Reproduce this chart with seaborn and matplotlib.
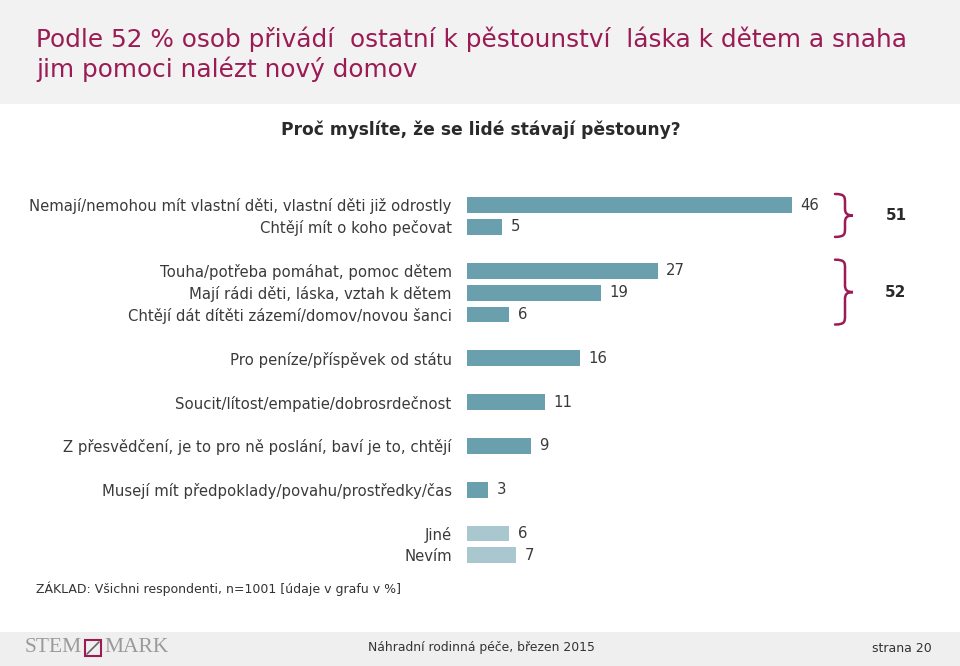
import numpy as np
import pandas as pd
import matplotlib
matplotlib.use("Agg")
import matplotlib.pyplot as plt
from matplotlib.path import Path
from matplotlib.patches import PathPatch, Rectangle
import seaborn as sns

# ---------------- data ----------------
labels = [
    "Nemají/nemohou mít vlastní děti, vlastní děti již odrostly",
    "Chtějí mít o koho pečovat",
    "Touha/potřeba pomáhat, pomoc dětem",
    "Mají rádi děti, láska, vztah k dětem",
    "Chtějí dát dítěti zázemí/domov/novou šanci",
    "Pro peníze/příspěvek od státu",
    "Soucit/lítost/empatie/dobrosrdečnost",
    "Z přesvědčení, je to pro ně poslání, baví je to, chtějí",
    "Musejí mít předpoklady/povahu/prostředky/čas",
    "Jiné",
    "Nevím",
]
values = [46, 5, 27, 19, 6, 16, 11, 9, 3, 6, 7]
groups = [0, 0, 1, 1, 1, 2, 3, 4, 5, 6, 6]
shade = ["main"] * 9 + ["other"] * 2
group_totals = {0: 51, 1: 52}

title = "Podle 52 % osob přivádí  ostatní k pěstounství  láska k dětem a snaha\njim pomoci nalézt nový domov"
subtitle = "Proč myslíte, že se lidé stávají pěstouny?"
footnote = "ZÁKLAD: Všichni respondenti, n=1001 [údaje v grafu v %]"
footer_center = "Náhradní rodinná péče, březen 2015"
footer_right = "strana 20"

# positions: one step inside a group, two steps between groups
pos = []
p = 0
for i, g in enumerate(groups):
    if i > 0:
        p += 1 if g == groups[i - 1] else 2
    pos.append(p)

df = pd.DataFrame({"label": labels, "value": values, "pos": pos, "shade": shade})

# ---------------- figure ----------------
sns.set_theme(style="white")
plt.rcParams["font.family"] = ["DejaVu Sans"]

W, H = 960, 666
fig = plt.figure(figsize=(W / 100, H / 100), dpi=100)
fig.patch.set_facecolor("white")

# overlay (pixel coords) for decorations
deco = fig.add_axes([0, 0, 1, 1], zorder=0)
deco.set_xlim(0, W)
deco.set_ylim(H, 0)
deco.axis("off")

deco.add_patch(Rectangle((0, 0), W, 104, color="#f2f2f2", lw=0))
deco.add_patch(Rectangle((0, 632), W, 34, color="#efefef", lw=0))

TITLE_C = "#9b1b55"
deco.text(36, 54, title, color=TITLE_C, fontsize=17.8, va="center", ha="left",
          linespacing=1.2)
deco.text(481, 130, subtitle, color="#2a2a2a", fontsize=12.3, fontweight="bold",
          ha="center", va="center")
deco.text(36, 589, footnote, color="#333333", fontsize=9, ha="left", va="center")
deco.text(481, 648, footer_center, color="#333333", fontsize=8.9, ha="center", va="center")
deco.text(932, 648, footer_right, color="#333333", fontsize=9, ha="right", va="center")

# logo
deco.text(82, 648, "STEM", family="Liberation Serif", color="#9a9a9a", fontsize=15.5,
          ha="right", va="center")
deco.add_patch(Rectangle((85, 640), 16, 16, fill=False, ec=TITLE_C, lw=1.5))
deco.plot([87, 99], [654, 642], color="#666666", lw=1.2)
deco.text(104, 648, "MARK", family="Liberation Serif", color="#9a9a9a", fontsize=15.5,
          ha="left", va="center")

# ---------------- bars ----------------
UNIT_PX = 21.9
Y0_PX = 205
top_px = Y0_PX - 0.5 * UNIT_PX
bottom_px = top_px + (max(pos) + 1) * UNIT_PX
left_px = 467
xmax = 50
width_px = xmax * 7.07
ax = fig.add_axes([left_px / W, 1 - bottom_px / H, width_px / W, (bottom_px - top_px) / H],
                  zorder=1)
ax.patch.set_alpha(0)

palette = {"main": "#6a9fae", "other": "#a8c7cf"}
sns.barplot(data=df, x="value", y="pos", hue="shade", palette=palette, orient="h",
            native_scale=True, width=0.73, dodge=False, legend=False, ax=ax,
            saturation=1, linewidth=0)
ax.set_xlim(0, xmax)
ax.set_ylim(max(pos) + 0.5, -0.5)
ax.set_yticks(pos)
ax.set_yticklabels(labels, fontsize=10.7, color="#3a3a3a")
ax.tick_params(axis="y", length=0, pad=11)
ax.set_xticks([])
ax.set_xlabel("")
ax.set_ylabel("")
for s in ax.spines.values():
    s.set_visible(False)

for v, y in zip(values, pos):
    ax.annotate(str(v), (v, y), xytext=(6, 0), textcoords="offset points",
                va="center", ha="left", fontsize=10.7, color="#3a3a3a")

# ---------------- braces ----------------
def brace(y0, y1, ym, xl=835, xv=845, xt=853):
    verts = [
        (xl, y0), (xv, y0), (xv, y0 + 3), (xv, y0 + 9),
        (xv, ym - 7),
        (xv, ym - 2), (xv + 2, ym), (xt, ym),
        (xv + 2, ym), (xv, ym + 2), (xv, ym + 7),
        (xv, y1 - 9),
        (xv, y1 - 3), (xv, y1), (xl, y1),
    ]
    codes = [Path.MOVETO, Path.CURVE4, Path.CURVE4, Path.CURVE4,
             Path.LINETO,
             Path.CURVE4, Path.CURVE4, Path.CURVE4,
             Path.CURVE4, Path.CURVE4, Path.CURVE4,
             Path.LINETO,
             Path.CURVE4, Path.CURVE4, Path.CURVE4]
    deco.add_patch(PathPatch(Path(verts, codes), fill=False, ec=TITLE_C, lw=1.8,
                             capstyle="round"))

for g, total in group_totals.items():
    ys = [pos[i] for i in range(len(pos)) if groups[i] == g]
    y0 = Y0_PX + min(ys) * UNIT_PX - 11
    y1 = Y0_PX + max(ys) * UNIT_PX + 10
    ym = (y0 + y1) / 2
    brace(y0, y1, ym)
    deco.text(896, ym, str(total), fontsize=11, fontweight="bold", color="#2a2a2a",
              ha="center", va="center")

fig.savefig("out.png", dpi=100)
